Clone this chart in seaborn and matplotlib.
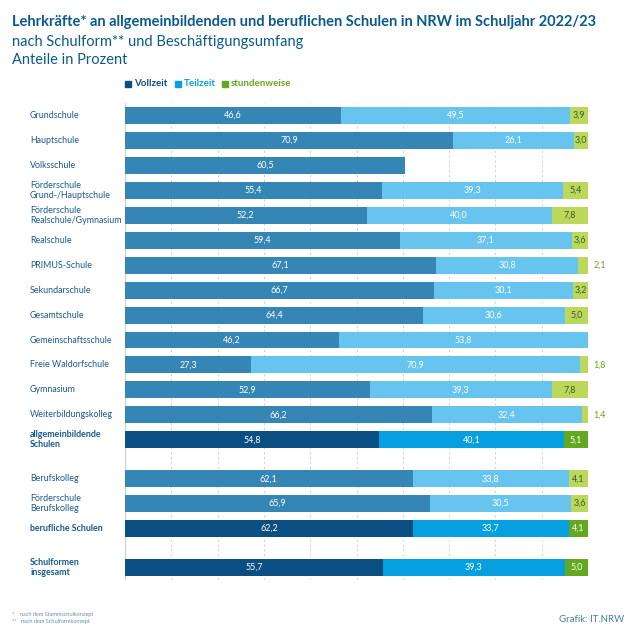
import matplotlib
matplotlib.use("Agg")
import matplotlib.pyplot as plt
import seaborn as sns
import numpy as np
import pandas as pd

sns.set_style("white")
plt.rcParams['font.family'] = ['Lato', 'DejaVu Sans']

schools = ["Grundschule", "Hauptschule", "Volksschule", "Förderschule\nGrund-/Hauptschule",
           "Förderschule\nRealschule/Gymnasium", "Realschule", "PRIMUS-Schule", "Sekundarschule",
           "Gesamtschule", "Gemeinschaftsschule", "Freie Waldorfschule", "Gymnasium",
           "Weiterbildungskolleg", "allgemeinbildende\nSchulen", "Berufskolleg",
           "Förderschule\nBerufskolleg", "berufliche Schulen", "Schulformen\ninsgesamt"]
vollzeit = [46.6, 70.9, 60.5, 55.4, 52.2, 59.4, 67.1, 66.7, 64.4, 46.2, 27.3, 52.9, 66.2, 54.8, 62.1, 65.9, 62.2, 55.7]
teilzeit = [49.5, 26.1, 0, 39.3, 40.0, 37.1, 30.8, 30.1, 30.6, 53.8, 70.9, 39.3, 32.4, 40.1, 33.8, 30.5, 33.7, 39.3]
stunden = [3.9, 3.0, 0, 5.4, 7.8, 3.6, 2.1, 3.2, 5.0, 0, 1.8, 7.8, 1.4, 5.1, 4.1, 3.6, 4.1, 5.0]
summary = ["allgemeinbildende\nSchulen", "berufliche Schulen", "Schulformen\ninsgesamt"]

pos = list(np.arange(14.0)) + [14.56, 15.56, 16.56, 18.12]
df = pd.DataFrame({"pos": pos, "school": schools, "v": vollzeit, "t": teilzeit, "s": stunden})
df["vt"] = df.v + df.t
df["vts"] = df.vt + df.s

norm = {"v": "#3585b5", "t": "#66c4ee", "s": "#bcd85a"}
dark = {"v": "#0b4f82", "t": "#06a0e0", "s": "#63a821"}

fig = plt.figure(figsize=(6.36, 6.36), dpi=100)
ax = fig.add_axes([125/636, 1-580/636, 463/636, 477/636])

for col, key in [("vts", "s"), ("vt", "t"), ("v", "v")]:
    n0 = len(ax.patches)
    sns.barplot(data=df, x=col, y="pos", orient="h", native_scale=True, width=0.68,
                color=norm[key], ax=ax, errorbar=None, linewidth=0)
    for p in ax.patches[n0:]:
        yc = p.get_y() + p.get_height() / 2
        row = df.iloc[int(np.argmin(np.abs(df.pos - yc)))]
        p.set_facecolor(dark[key] if row.school in summary else norm[key])

ax.set_xlim(0, 100)
ax.set_ylim(18.62, -0.5)
ax.set_xlabel("")
ax.set_ylabel("")
ax.set_xticks([])
ax.set_yticks([])
for sp in ax.spines.values():
    sp.set_visible(False)
ax.axvline(0, color="#cccccc", lw=0.8, zorder=0)
for x in range(10, 100, 10):
    ax.axvline(x, color="#cccccc", lw=0.7, ls=(0, (2, 3)), zorder=0)

fmt = lambda v: f"{v:.1f}".replace(".", ",")
for _, r in df.iterrows():
    sm = r.school in summary
    ax.text(r.v / 2, r.pos, fmt(r.v), color="white", ha="center", va="center", fontsize=6.5)
    if r.t > 0:
        ax.text(r.v + r.t / 2, r.pos, fmt(r.t), color="white", ha="center", va="center", fontsize=6.5)
    if r.s > 0:
        if r.s < 2.5:
            ax.text(102.5, r.pos, fmt(r.s), color="#63a821", ha="center", va="center", fontsize=6.5, clip_on=False)
        else:
            ax.text(r.vt + r.s / 2, r.pos, fmt(r.s), color="white" if sm else "#3a5a2a",
                    ha="center", va="center", fontsize=6.5)
    ax.text(-20.5, r.pos, r.school, color="#1a5a8a", ha="left", va="center", fontsize=6.4,
            fontweight="bold" if sm else "normal", linespacing=1.15, clip_on=False)

c = "#0b5a8c"
fig.text(12/636, 1-22/636, "Lehrkräfte* an allgemeinbildenden und beruflichen Schulen in NRW im Schuljahr 2022/23",
         color=c, fontsize=10.5, fontweight="bold", va="center")
fig.text(12/636, 1-42/636, "nach Schulform** und Beschäftigungsumfang", color=c, fontsize=10.5, va="center")
fig.text(12/636, 1-60/636, "Anteile in Prozent", color=c, fontsize=10.5, va="center")

lx = 125
for lab, col, w in [("Vollzeit", dark["v"], 50), ("Teilzeit", dark["t"], 47), ("stundenweise", dark["s"], 70)]:
    fig.patches.append(plt.Rectangle((lx/636, 1-87/636), 6/636, 6/636, transform=fig.transFigure, color=col))
    fig.text((lx+9)/636, 1-84/636, lab, color=col, fontsize=7, fontweight="bold", va="center")
    lx += w

fig.text(12/636, 1-616/636, "*    nach dem Stammschulkonzept", color="#6a8ab0", fontsize=4)
fig.text(12/636, 1-623/636, "**   nach dem Schulformkonzept", color="#6a8ab0", fontsize=4)
fig.text(624/636, 1-620/636, "Grafik: IT.NRW", color="#4a7aa0", fontsize=7, ha="right", va="center")

fig.savefig("out.png", dpi=100)
